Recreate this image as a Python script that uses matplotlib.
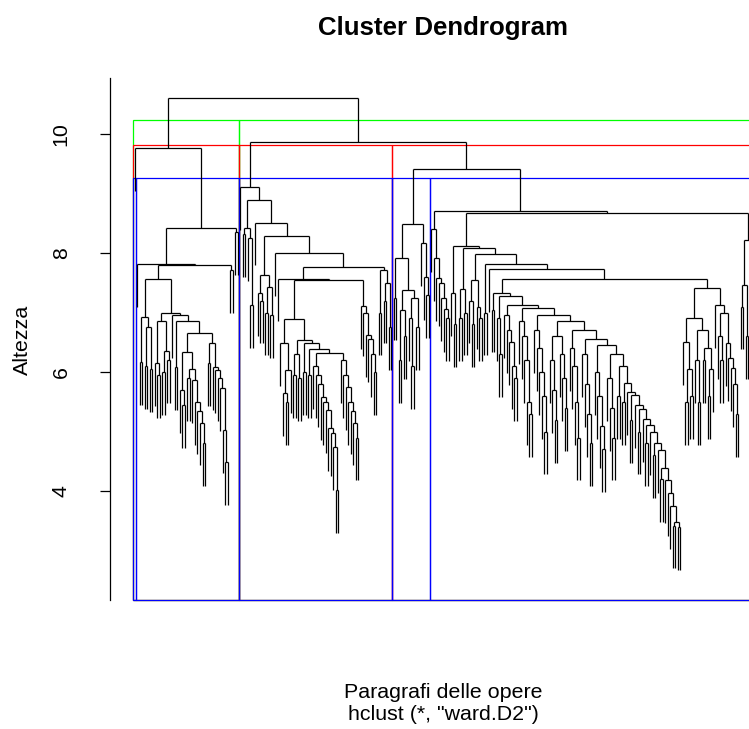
import matplotlib
matplotlib.use('Agg')
import matplotlib.pyplot as plt
from matplotlib.collections import LineCollection

plt.rcParams['font.family'] = ['Liberation Sans', 'DejaVu Sans']


def comb(hs):
    # leaf on the left at each step, the last height joins two leaves
    node = [hs[-1], 0, 0]
    for h in reversed(hs[:-1]):
        node = [h, 0, node]
    return node


def stair(steps, last):
    node = last
    for h, left in reversed(steps):
        node = [h, left, node]
    return node


hang = 0.72
# nodes are [height, left, right], 0 is a leaf

# cluster 1
X1 = [6.85, [6.15, 0, [5.95, 0, 0]], [6.35, [6.0, 0, 0], [6.2, 0, 0]]]
X3 = [6.08, 0, 0]
X4 = [6.34, [5.7, 0, [5.45, 0, 0]], [6.05, [5.9, 0, 0], comb([5.87, 5.5, 5.35, 5.15, 4.8])]]
X5 = [6.15, 0, 0]
X6 = comb([6.09, 6.03, 5.9, 5.73, 5.03, 4.49])
S1a = [6.93, [6.17, 0, 0], [6.76, [6.10, 0, 0], [6.05, 0, 0]]]
S1b = stair([(7.00, X1), (6.95, 0), (6.85, X3), (6.66, X4)], [6.49, X5, X6])
C1 = [8.42, [7.81, 0, [7.79, [7.56, S1a, S1b], [7.72, 0, 0]]], [8.35, 0, 0]]
clus1 = [9.76, 0, C1]

# cluster 2
W1 = [8.42, [8.32, 0, 0], [8.25, 0, [7.12, 0, 0]]]
V1 = [7.63, [7.33, 0, [7.2, 0, 0]], [7.43, [7.0, 0, 0], [6.95, 0, 0]]]
B3L = [6.49, 0, [6.03, [5.65, 0, [5.5, 0, 0]], 0]]
Y0 = [6.3, [5.95, 0, 0], [5.9, 0, 0]]
Y3 = comb([6.1, 5.95, 5.8, 5.58, 5.50, 5.36, 5.06, 4.97, 4.74, 4.02])
Z4 = comb([6.20, 5.95, 5.75, 5.5, 5.35, 5.15, 4.9])
B3R = stair([(6.54, Y0), (6.49, [6.0, 0, 0]), (6.39, [5.95, 0, 0]), (6.32, Y3)], Z4)
C3 = comb([7.11, 6.99, 6.63, 6.55, 6.3, 6.0])
R2 = [7.72, [7.0, 0, 0], [7.50, [7.2, 0, 0], [6.75, 0, 0]]]
clus2 = stair([(9.11, 0), (8.89, W1), (8.51, 0), (8.29, V1), (8.00, 0)],
              [7.77, [7.57, 0, [7.55, [6.89, B3L, B3R], C3]], R2])

# cluster 3
clus3 = [8.48,
         [7.91, [7.25, 0, 0],
          [7.38, [7.05, [6.2, 0, 0], [6.6, 0, 0]], [7.25, [6.9, 0, [6.1, 0, 0]], [6.75, 0, 0]]]],
         [8.16, 0, [7.6, 0, [7.3, 0, 0]]]]

# cluster 4
LC = comb([7.92, 7.58, 7.50, 7.24, 7.06, 6.9])
G1 = [7.33, 0, [6.8, 0, 0]]
G2 = [7.4, [6.9, 0, 0], [7.0, 0, 0]]
G3 = [7.55, [7.2, 0, [6.8, 0, 0]], [7.1, 0, [6.9, 0, 0]]]
G4 = [7.0, 0, 0]
deep = stair([(5.82, [5.5, 0, 0]), (5.66, 0), (5.61, [5.2, 0, 0]), (5.45, 0),
              (5.38, [5.0, 0, 0]), (5.21, 0), (5.11, [4.8, 0, 0]),
              (4.99, 0), (4.81, [4.6, 0, 0]), (4.69, 0),
              (4.39, [4.2, 0, 0]), (4.18, 0), (3.97, 0), (3.75, 0)],
             [3.48, [3.42, 0, 0], [3.40, 0, 0]])
G6 = stair([(7.33, [7.05, 0, 0]),
            (7.27, [6.9, 0, [6.3, 0, 0]]),
            (7.13, comb([6.95, 6.7, 6.5, 6.1, 5.9])),
            (7.08, comb([6.85, 6.6, 6.2, 5.5, 5.3])),
            (6.95, comb([6.7, 6.4, 6.0, 5.6, 5.0])),
            (6.85, [6.6, comb([6.2, 5.7, 5.2]), comb([6.3, 5.9, 5.4])]),
            (6.70, comb([6.4, 6.1, 5.5, 4.9])),
            (6.55, comb([6.3, 5.8, 5.3, 4.8])),
            (6.45, comb([6.0, 5.6, 5.1, 4.7])),
            (6.30, comb([5.9, 5.4, 4.9])),
            (6.10, [5.6, 0, 0])], deep)
RCL = [6.91, [6.51, 0, [6.05, [5.5, 0, 0], [5.6, 0, 0]]],
       [6.70, [6.2, 0, [5.5, 0, 0]], [6.4, [6.2, 0, 0], [6.05, [5.6, 0, 0], 0]]]]
RCR = [7.13, 0, [6.99, [6.6, 0, [6.2, 0, 0]], comb([6.49, 6.23, 6.06, 5.8, 5.3])]]
R4 = [8.21, [7.47, [7.1, 0, 0], [6.6, 0, 0]], 0]
clus4 = [8.70, [8.40, 0, LC],
         [8.68, stair([(8.12, G1), (8.08, G2), (7.98, G3), (7.81, G4), (7.73, 0)],
                      [7.56, G6, [7.41, RCL, RCR]]), R4]]

tree = [10.61, clus1, [9.87, clus2, [9.41, clus3, clus4]]]

# layout: leaves at 1..n, nodes at the middle of their children
segs = []
heights = []
count = [0]


def place(node):
    if not isinstance(node, list):
        count[0] += 1
        return count[0], None, count[0], count[0]
    h, left, right = node
    heights.append(h)
    xl, hl, a, _ = place(left)
    xr, hr, _, b = place(right)
    segs.append([(xl, h), (xr, h)])
    segs.append([(xl, h), (xl, h - hang if hl is None else hl)])
    segs.append([(xr, h), (xr, h - hang if hr is None else hr)])
    node.append((a, b))
    return (xl + xr) / 2, h, a, b


place(tree)
n = count[0]


def leaf_groups(node, cut):
    res = []
    pos = [0]

    def walk(nd):
        if not isinstance(nd, list):
            pos[0] += 1
            res.append((pos[0], pos[0]))
            return
        if nd[0] < cut:
            a, b = nd[3]
            pos[0] = b
            res.append((a, b))
            return
        walk(nd[1])
        walk(nd[2])
    walk(node)
    return res


fig = plt.figure(figsize=(7.49, 7.29), dpi=100)
ax = fig.add_axes([110 / 749, 1 - 600 / 729, 665.3 / 749, 522 / 729])
ax.add_collection(LineCollection(segs, colors='black', linewidths=0.9))
pad = 0.04 * (n - 1)
ax.set_xlim(1 - pad, n + pad)
ax.set_ylim(2.17, 10.94)

hs = sorted(heights, reverse=True)
ybot = ax.get_ylim()[0]
for k, col in [(2, '#00ff00'), (3, '#ff0000'), (5, '#0000ff')]:
    cut = (hs[k - 2] + hs[k - 1]) / 2
    for a, b in leaf_groups(tree, cut):
        ax.add_patch(plt.Rectangle((a - 0.5, ybot), b - a + 1, cut - ybot, fill=False,
                                   edgecolor=col, linewidth=0.9, snap=True, clip_on=False))

for s in ['top', 'right', 'bottom']:
    ax.spines[s].set_visible(False)
ax.spines['left'].set_linewidth(0.9)
ax.set_xticks([])
ax.set_yticks([4, 6, 8, 10])
ax.tick_params(axis='y', length=7.2, width=0.9, pad=21, labelsize=15.4, labelrotation=90)
for t in ax.get_yticklabels():
    t.set_va('center')

fig.text(443 / 749, 1 - 28 / 729, 'Cluster Dendrogram', ha='center', va='center',
         fontsize=18.6, fontweight='bold')
fig.text(443 / 749, 1 - 692 / 729, 'Paragrafi delle opere', ha='center', va='center', fontsize=15.4)
fig.text(443 / 749, 1 - 715 / 729, 'hclust (*, "ward.D2")', ha='center', va='center', fontsize=15.4)
fig.text(22 / 749, 1 - 340 / 729, 'Altezza', ha='center', va='center', rotation=90, fontsize=15.4)

fig.savefig('out.png', dpi=100)
